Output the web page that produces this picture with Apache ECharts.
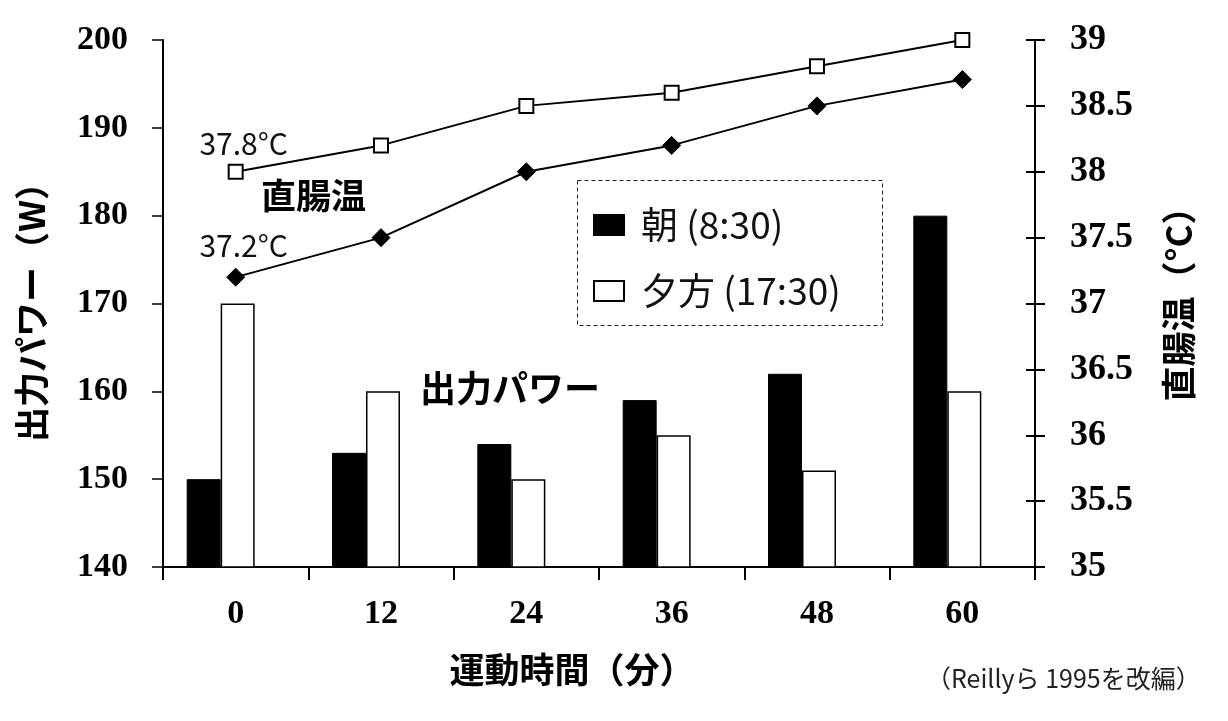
<!DOCTYPE html>
<html>
<head>
<meta charset="utf-8">
<script src="https://cdn.jsdelivr.net/npm/echarts@6/dist/echarts.min.js"></script>
<style>
html,body{margin:0;padding:0;background:#fff;}
#chart{width:1228px;height:721px;}
</style>
</head>
<body>
<div id="chart"></div>
<script>
// ---- data ----
const categories = ['0', '12', '24', '36', '48', '60'];
const barNames = ['朝 (8:30)', '夕方 (17:30)'];
const powerMorning = [150, 153, 154, 159, 162, 180];
const powerEvening = [170, 160, 150, 155, 151, 160];
const tempNames = ['直腸温 朝', '直腸温 夕方'];
const tempMorning = [37.2, 37.5, 38.0, 38.2, 38.5, 38.7];
const tempEvening = [38.0, 38.2, 38.5, 38.6, 38.8, 39.0];
const firstPointLabels = ['37.2°C', '37.8°C'];
const powerAxis = { min: 140, max: 200, interval: 10, name: '出力パワー（W）' };
const tempAxis = { min: 35, max: 39, interval: 0.5, name: '直腸温（°C）' };
const xAxisName = '運動時間（分）';
const noteTexts = ['直腸温', '出力パワー'];
const sourceText = '（Reillyら 1995を改編）';

const SERIF = '"Liberation Serif", "Times New Roman", serif';
const CJK = '"Noto Sans CJK JP", "Noto Sans", sans-serif';

function withFirstLabel(values, text, offset) {
  return values.map((v, i) => i === 0 ? {
    value: v,
    label: { show: true, position: 'top', offset: offset, formatter: text,
             fontFamily: CJK, fontSize: 30, color: '#111' }
  } : v);
}

const chart = echarts.init(document.getElementById('chart'));
chart.setOption({
  animation: false,
  backgroundColor: '#fff',
  grid: [
    { left: 163, right: 193, top: 40, bottom: 154 },
    { left: 148, right: 208, top: 40, bottom: 154 }
  ],
  legend: {
    data: barNames,
    orient: 'vertical',
    left: 593, top: 205,
    padding: 0,
    itemWidth: 30, itemHeight: 20,
    itemGap: 26,
    icon: 'rect',
    selectedMode: false,
    textStyle: { fontFamily: CJK, fontSize: 37, color: '#111', lineHeight: 40, padding: [0, 0, 0, 12] }
  },
  xAxis: [
    {
      type: 'category', gridIndex: 0, data: categories,
      name: xAxisName, nameLocation: 'middle', nameGap: 85,
      nameTextStyle: { fontFamily: CJK, fontSize: 35, fontWeight: 'bold', color: '#000', padding: [0, 54, 0, 0] },
      axisLine: { lineStyle: { color: '#000', width: 2 } },
      axisTick: { show: true, length: 13, lineStyle: { color: '#000', width: 2 } },
      axisLabel: { fontFamily: SERIF, fontWeight: 'bold', fontSize: 34, color: '#000', margin: 30 },
      splitLine: { show: false }
    },
    {
      type: 'category', gridIndex: 1, data: categories, show: false
    }
  ],
  yAxis: [
    {
      type: 'value', gridIndex: 0, position: 'left',
      min: powerAxis.min, max: powerAxis.max, interval: powerAxis.interval,
      name: powerAxis.name, nameLocation: 'middle', nameRotate: 90, nameGap: 114,
      nameTextStyle: { fontFamily: CJK, fontSize: 35, fontWeight: 'bold', color: '#000' },
      axisLine: { show: true, lineStyle: { color: '#000', width: 2 } },
      axisTick: { show: true, length: 11, lineStyle: { color: '#000', width: 1.5 } },
      axisLabel: { fontFamily: SERIF, fontWeight: 'bold', fontSize: 34, color: '#000', margin: 35 },
      splitLine: { show: false }
    },
    {
      type: 'value', gridIndex: 0, position: 'right',
      min: tempAxis.min, max: tempAxis.max, interval: tempAxis.interval,
      name: tempAxis.name, nameLocation: 'middle', nameRotate: 90, nameGap: 126,
      nameTextStyle: { fontFamily: CJK, fontSize: 35, fontWeight: 'bold', color: '#000', padding: [0, 0, 0, 16] },
      axisLine: { show: true, lineStyle: { color: '#000', width: 2 } },
      axisTick: { show: true, length: 10, lineStyle: { color: '#000', width: 2 } },
      axisLabel: { fontFamily: SERIF, fontWeight: 'bold', fontSize: 36, color: '#000', margin: 35 },
      splitLine: { show: false }
    },
    {
      type: 'value', gridIndex: 0, position: 'right',
      min: tempAxis.min, max: tempAxis.max, interval: tempAxis.interval,
      axisLine: { show: false },
      axisTick: { show: true, inside: true, length: 9, lineStyle: { color: '#000', width: 2 } },
      axisLabel: { show: false },
      splitLine: { show: false }
    },
    {
      type: 'value', gridIndex: 1, show: false,
      min: powerAxis.min, max: powerAxis.max, interval: powerAxis.interval,
      splitLine: { show: false }
    }
  ],
  series: [
    {
      name: barNames[0], type: 'bar', xAxisIndex: 1, yAxisIndex: 3,
      data: powerMorning, barWidth: 34, barGap: '0%',
      itemStyle: { color: '#000', borderColor: '#000', borderWidth: 1 }
    },
    {
      name: barNames[1], type: 'bar', xAxisIndex: 1, yAxisIndex: 3,
      data: powerEvening, barWidth: 34, barGap: '0%',
      itemStyle: { color: '#fff', borderColor: '#000', borderWidth: 1.5 }
    },
    {
      name: tempNames[0], type: 'line', xAxisIndex: 0, yAxisIndex: 1,
      data: withFirstLabel(tempMorning, firstPointLabels[0], [8, -2]),
      symbol: 'diamond', symbolSize: 18, clip: false,
      lineStyle: { color: '#000', width: 2 },
      itemStyle: { color: '#000', borderColor: '#000', borderWidth: 1 },
      z: 5
    },
    {
      name: tempNames[1], type: 'line', xAxisIndex: 0, yAxisIndex: 1,
      data: withFirstLabel(tempEvening, firstPointLabels[1], [8, 0]),
      symbol: 'rect', symbolSize: 14, clip: false,
      lineStyle: { color: '#000', width: 2 },
      itemStyle: { color: '#fff', borderColor: '#000', borderWidth: 2 },
      z: 5
    }
  ],
  graphic: [
    {
      type: 'rect', left: 575, top: 178, z: 1,
      shape: { width: 305, height: 145 },
      style: { fill: 'none', stroke: '#222', lineWidth: 1, lineDash: [4, 3] }
    },
    {
      type: 'text', left: 261, top: 178,
      style: { text: noteTexts[0], font: 'bold 35px ' + CJK, fill: '#000' }
    },
    {
      type: 'text', left: 420, top: 370,
      style: { text: noteTexts[1], font: 'bold 36px ' + CJK, fill: '#000' }
    },
    {
      type: 'text', left: 926, top: 666,
      style: { text: sourceText, font: '25px ' + CJK, fill: '#222' }
    }
  ]
});
</script>
</body>
</html>
